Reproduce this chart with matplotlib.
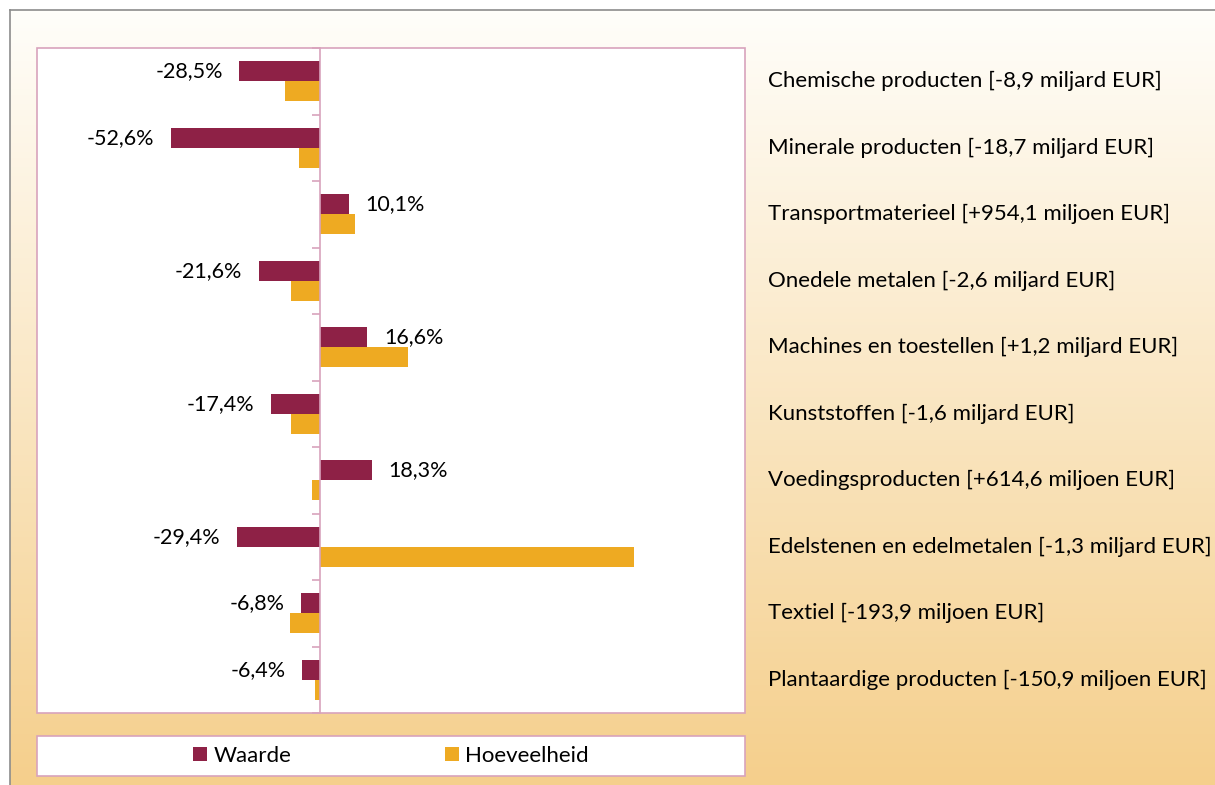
import numpy as np
import matplotlib
matplotlib.use("Agg")
import matplotlib.pyplot as plt
import matplotlib.transforms as mtransforms
from matplotlib.patches import Rectangle, Patch
from matplotlib.lines import Line2D

plt.rcParams['font.family'] = ['Lato', 'DejaVu Sans']

categories = [
    "Chemische producten [-8,9 miljard EUR]",
    "Minerale producten [-18,7 miljard EUR]",
    "Transportmaterieel [+954,1 miljoen EUR]",
    "Onedele metalen [-2,6 miljard EUR]",
    "Machines en toestellen [+1,2 miljard EUR]",
    "Kunststoffen [-1,6 miljard EUR]",
    "Voedingsproducten [+614,6 miljoen EUR]",
    "Edelstenen en edelmetalen [-1,3 miljard EUR]",
    "Textiel [-193,9 miljoen EUR]",
    "Plantaardige producten [-150,9 miljoen EUR]",
]
waarde = [-28.5, -52.6, 10.1, -21.6, 16.6, -17.4, 18.3, -29.4, -6.8, -6.4]
hoeveelheid = [-12.3, -7.4, 12.3, -10.2, 31.0, -10.2, -2.8, 110.8, -10.6, -1.8]
series_names = ["Waarde", "Hoeveelheid"]

W, H = 1215, 785
fig = plt.figure(figsize=(W / 100, H / 100), dpi=100)
fig.patch.set_facecolor("white")

# background gradient panel
bg = fig.add_axes([10 / W, 0, 1 - 10 / W, 1 - 10 / H])
bg.set_axis_off()
t = np.linspace(0, 1, 256)[:, None]
top = np.array([255, 254, 250]) / 255
bot = np.array([245, 207, 140]) / 255
grad = top[None, None, :] * (1 - t[..., None]) + bot[None, None, :] * t[..., None]
grad = np.repeat(grad, 2, axis=1)
bg.imshow(grad, aspect="auto", extent=[0, 1, 0, 1], origin="upper")
bg.set_xlim(0, 1)
bg.set_ylim(0, 1)
fig.add_artist(Line2D([10 / W, 1], [1 - 10 / H, 1 - 10 / H], transform=fig.transFigure,
                      color="#8c8c8c", lw=1.2))
fig.add_artist(Line2D([10 / W, 10 / W], [0, 1 - 10 / H], transform=fig.transFigure,
                      color="#8c8c8c", lw=1.2))

c_w = "#8E2146"
c_h = "#EEAA22"
pink = "#D8A3BC"
fs = 15.5
fs_cat = 16

x0, x1 = 37, 745
y0, y1 = 48, 713
ax = fig.add_axes([x0 / W, 1 - y1 / H, (x1 - x0) / W, (y1 - y0) / H])
ax.set_facecolor("white")
n = len(categories)
y = np.arange(n)
bh = 0.3
ax.barh(y - bh / 2, waarde, height=bh, color=c_w, zorder=3)
ax.barh(y + bh / 2, hoeveelheid, height=bh, color=c_h, zorder=3)
ax.set_xlim(-100, 150)
ax.set_ylim(n - 0.5, -0.5)
for s in ["top", "right", "bottom"]:
    ax.spines[s].set_visible(False)
ax.spines["left"].set_position(("data", 0))
ax.spines["left"].set_color(pink)
ax.spines["left"].set_linewidth(1.2)
ax.spines["left"].set_zorder(4)
ax.set_xticks([])
ax.set_yticks(np.arange(-0.5, n, 1))
ax.set_yticklabels([])
ax.tick_params(axis="y", direction="out", length=6, color=pink, width=1.2)
ax.add_patch(Rectangle((0, 0), 1, 1, transform=ax.transAxes, fill=False,
                       edgecolor=pink, lw=1.2, clip_on=False, zorder=5))

for yi, v in zip(y, waarde):
    lab = f"{v:.1f}%".replace(".", ",")
    if v < 0:
        ax.annotate(lab, (v, yi - bh / 2), xytext=(-12, 0), textcoords="offset points",
                    ha="right", va="center", fontsize=fs, color="black", zorder=6)
    else:
        ax.annotate(lab, (v, yi - bh / 2), xytext=(12, 0), textcoords="offset points",
                    ha="left", va="center", fontsize=fs, color="black", zorder=6)

tr = mtransforms.blended_transform_factory(fig.transFigure, ax.transData)
for yi, c in zip(y, categories):
    fig.text(768 / W, yi, c, transform=tr, ha="left", va="center", fontsize=fs_cat, color="black")

# legend box
lx0, lx1, ly0, ly1 = 37, 745, 736, 776
fig.add_artist(Rectangle((lx0 / W, 1 - ly1 / H), (lx1 - lx0) / W, (ly1 - ly0) / H,
                         transform=fig.transFigure, facecolor="white", edgecolor=pink, lw=1.2))
handles = [Patch(facecolor=c_w), Patch(facecolor=c_h)]
fig.legend(handles, series_names, loc="center",
           bbox_to_anchor=((lx0 + lx1) / 2 / W, 1 - (ly0 + ly1) / 2 / H),
           frameon=False, ncol=2, fontsize=fs_cat, columnspacing=6.9,
           handlelength=0.62, handleheight=0.62, handletextpad=0.3)

fig.savefig("out.png", dpi=100)
